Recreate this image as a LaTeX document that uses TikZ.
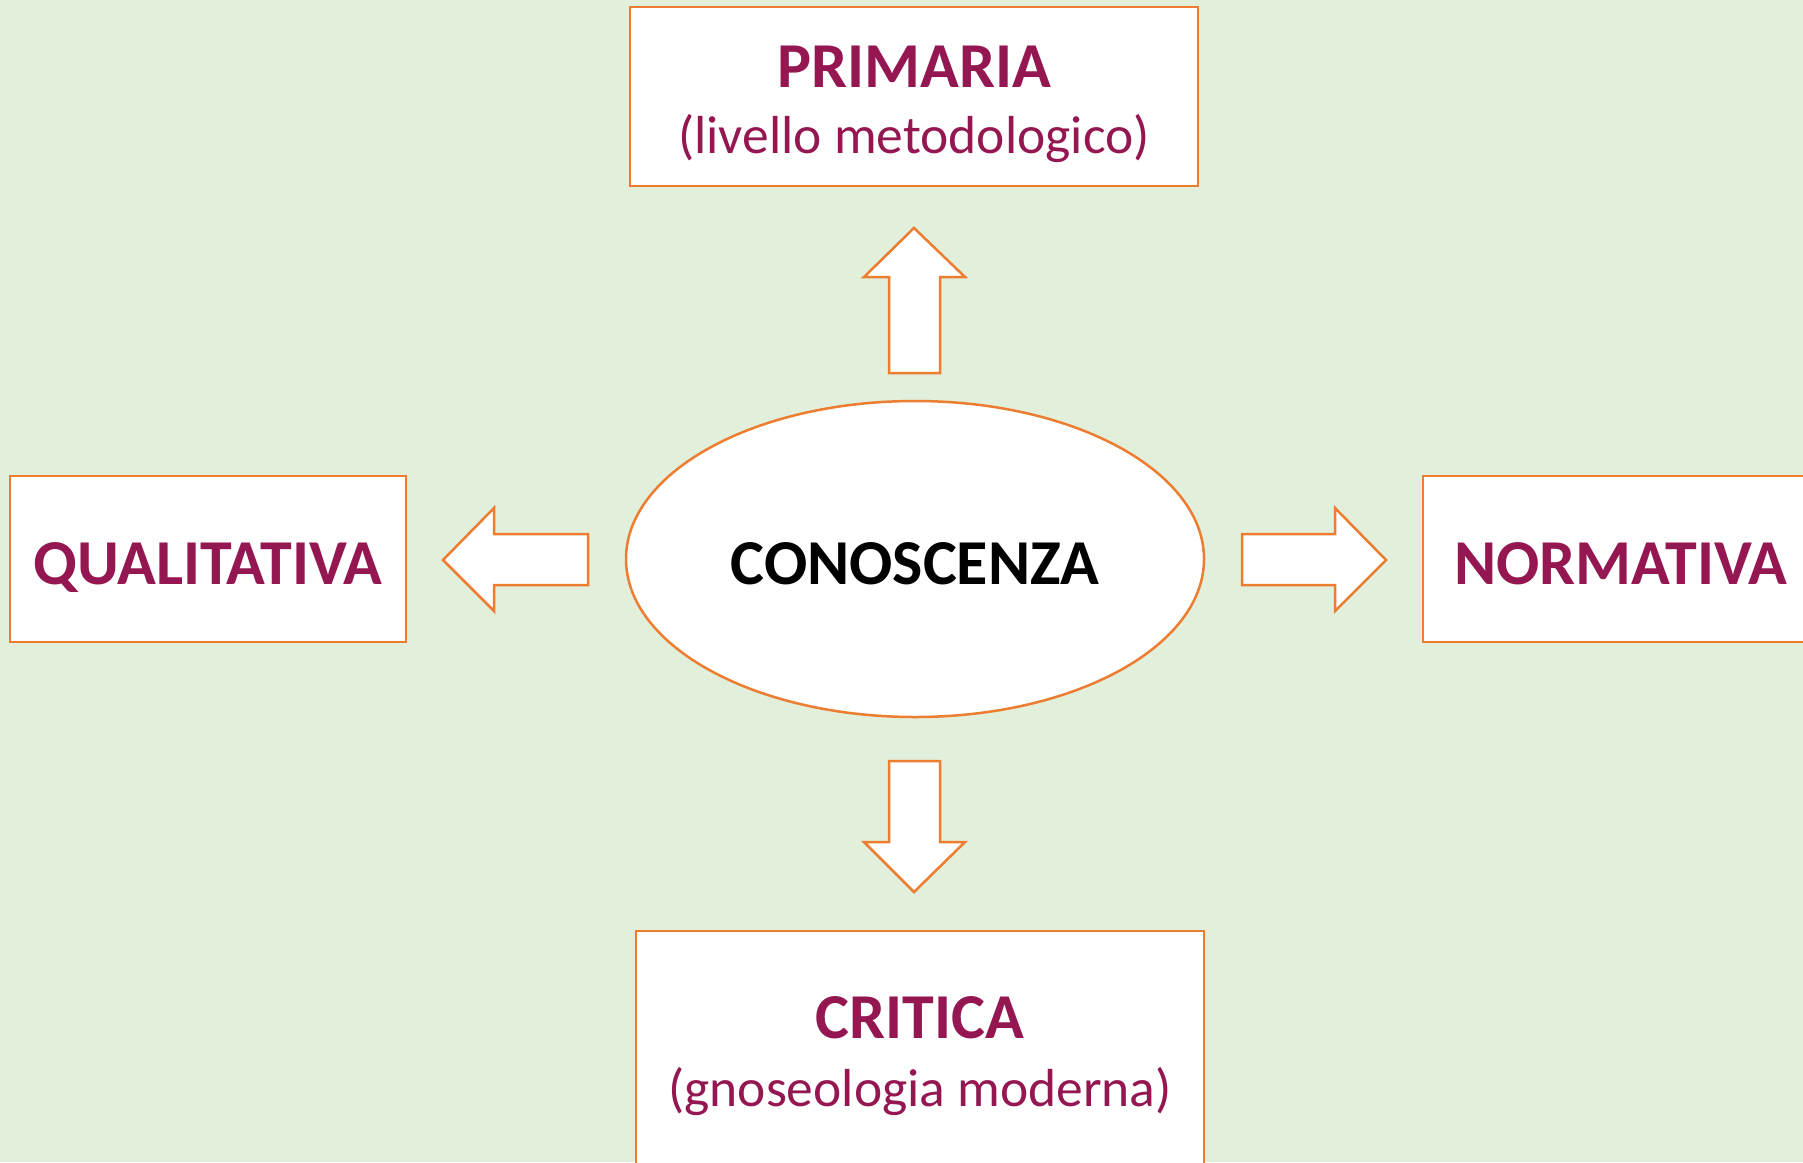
\documentclass[tikz,border=0pt]{standalone}
\usepackage{fontspec}
\setmainfont{Carlito}
\definecolor{bgg}{HTML}{E2EFDA}
\definecolor{orng}{HTML}{ED7D31}
\definecolor{berry}{HTML}{951751}
\tikzset{
  box/.style={draw=orng, line width=2.5pt, fill=white, rectangle, inner sep=0pt},
  blockarrow/.style={draw=orng, line width=2.5pt, fill=white, line join=miter},
  title/.style={text=berry, font=\fontsize{64}{70}\selectfont\bfseries, anchor=base, inner sep=0pt},
  sub/.style={text=berry, font=\fontsize{53.5}{62}\selectfont, anchor=base, inner sep=0pt},
}
\begin{document}
\begin{tikzpicture}[x=1pt,y=-1pt]
\useasboundingbox (0,0) rectangle (1803,1162);
\clip (0,0) rectangle (1803,1162);
\fill[bgg] (0,0) rectangle (1803,1162);
% boxes
\node[box, minimum width=568pt, minimum height=179pt] (primbox) at (914,96.5) {};
\node[box, minimum width=396pt, minimum height=166pt] (qualbox) at (208,559) {};
\node[box, minimum width=420pt, minimum height=166pt] (normbox) at (1633,559) {};
\node[box, minimum width=568pt, minimum height=260pt] (critbox) at (920,1061) {};
% ellipse
\draw[draw=orng, line width=2.5pt, fill=white] (915,559) ellipse [x radius=289, y radius=158];
\coordinate (conc) at (915,559);
% arrows
\draw[blockarrow] (914,228) -- (965,277) -- (940,277) -- (940,373) -- (889,373) -- (889,277) -- (864,277) -- cycle;
\draw[blockarrow] (914,892) -- (965,842) -- (940,842) -- (940,761) -- (889,761) -- (889,842) -- (864,842) -- cycle;
\draw[blockarrow] (443,560) -- (494,508) -- (494,534) -- (588,534) -- (588,585) -- (494,585) -- (494,611) -- cycle;
\draw[blockarrow] (1386,560) -- (1335,508) -- (1335,534) -- (1242,534) -- (1242,585) -- (1335,585) -- (1335,611) -- cycle;
% texts
\node[title] (prim) at (914,87) {PRIMARIA};
\node[sub] (primsub) at (914,153) {(livello metodologico)};
\node[title, text=black] (cono) at (915,584) {CONOSCENZA};
\node[title] (qual) at (208,584) {QUALITATIVA};
\node[title] (norm) at (1621,584) {NORMATIVA};
\node[title] (crit) at (920,1038) {CRITICA};
\node[sub] (critsub) at (920,1106) {(gnoseologia moderna)};
\end{tikzpicture}
\end{document}
